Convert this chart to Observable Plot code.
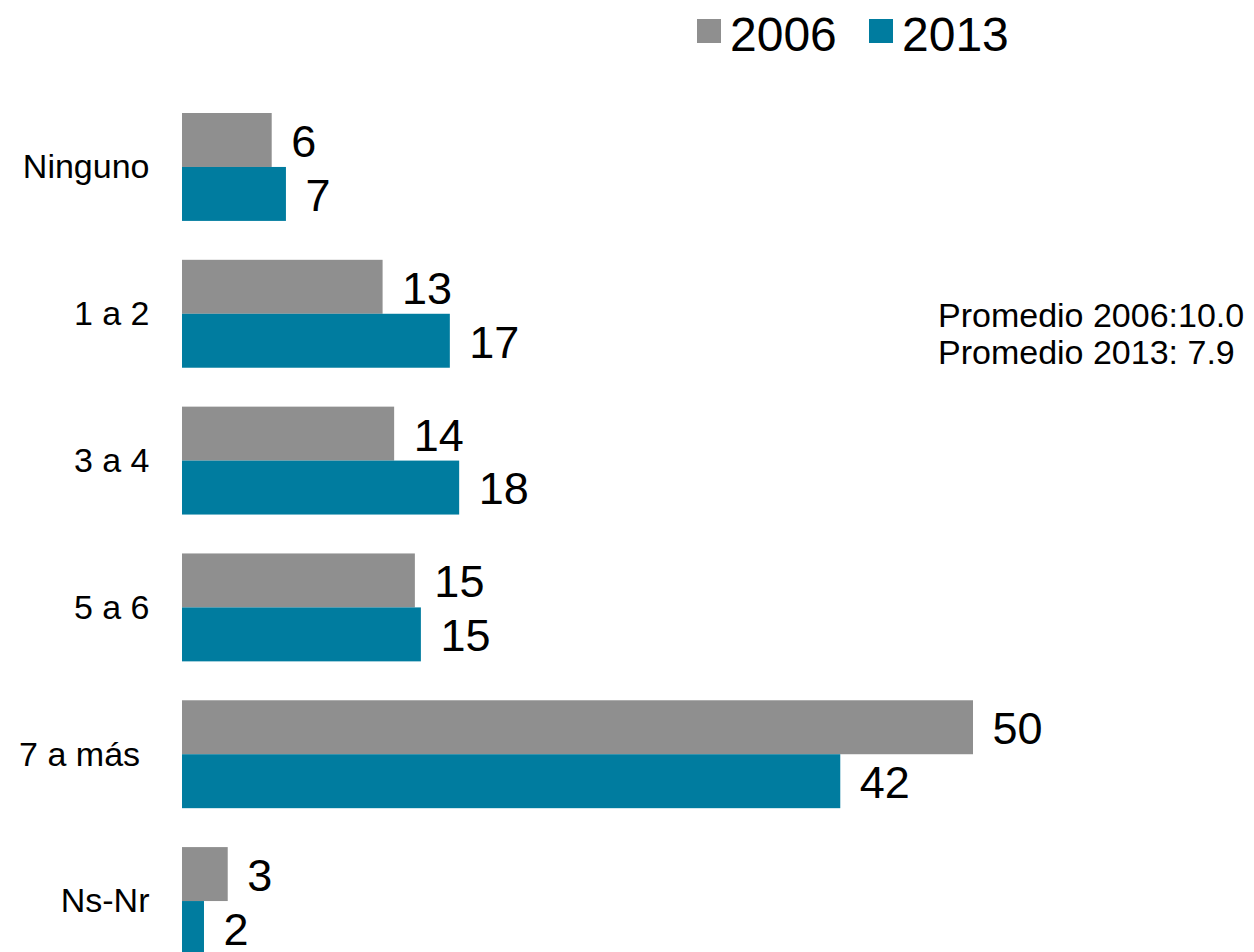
<!DOCTYPE html>
<html>
<head>
<meta charset="utf-8">
<script src="https://cdn.jsdelivr.net/npm/d3@7"></script>
<script src="https://cdn.jsdelivr.net/npm/@observablehq/plot@0.6"></script>
<style>
  html, body { margin: 0; padding: 0; overflow: hidden; background: #fff; }
  body { font-family: "Liberation Sans", Arial, sans-serif; color: #000; width: 1254px; height: 952px; position: relative; }
  #chart { position: absolute; left: 0; top: 0; }
  .sw { position: absolute; width: 24px; height: 24px; }
  .lg { position: absolute; font-size: 48px; line-height: 48px; }
  #note { position: absolute; left: 938px; top: 297px; font-size: 34px; line-height: 37px; white-space: pre; }
</style>
</head>
<body>
<div id="chart"></div>
<div class="sw" style="left:697px; top:19px; background:#8f8f8f;"></div>
<div class="lg" style="left:730px; top:11px;">2006</div>
<div class="sw" style="left:869px; top:19px; background:#007c9f;"></div>
<div class="lg" style="left:902px; top:11px;">2013</div>
<div id="note">Promedio 2006:10.0
Promedio 2013: 7.9</div>
<script>
const categories = ["Ninguno", "1 a 2", "3 a 4", "5 a 6", "7 a más", "Ns-Nr"];
const years = ["2006", "2013"];
const values2006 = [5.67, 12.68, 13.41, 14.72, 50.0, 2.89];
const values2013 = [6.57, 16.93, 17.52, 15.10, 41.61, 1.39];
const labels2006 = ["6", "13", "14", "15", "50", "3"];
const labels2013 = ["7", "17", "18", "15", "42", "2"];
const colors = ["#8f8f8f", "#007c9f"];

const data = [];
categories.forEach((c, i) => {
  data.push({cat: c, year: years[0], value: values2006[i], label: labels2006[i]});
  data.push({cat: c, year: years[1], value: values2013[i], label: labels2013[i]});
});

const chart = Plot.plot({
  width: 1254,
  height: 955,
  marginLeft: 182,
  marginRight: 281,
  marginTop: 113,
  marginBottom: 0,
  style: {fontFamily: "'Liberation Sans', Arial, sans-serif", background: "#fff", color: "#000"},
  x: {domain: [0, 50], axis: null},
  y: {domain: years, padding: 0, round: false, axis: null},
  fy: {domain: categories, paddingInner: 0.265, paddingOuter: 0, align: 0, round: false, label: null},
  color: {domain: years, range: colors},
  marks: [
    Plot.axisFy({
      anchor: "left",
      tickSize: 0,
      tickPadding: 33,
      fontSize: 34,
      label: null,
      tickFormat: d => d === "7 a más" ? d + " " : d
    }),
    Plot.barX(data, {x: "value", y: "year", fy: "cat", fill: "year"}),
    Plot.text(data, {
      x: "value", y: "year", fy: "cat", text: "label",
      textAnchor: "start", dx: 19, dy: 2, fontSize: 45, fill: "#000"
    })
  ]
});
document.getElementById("chart").appendChild(chart);
</script>
</body>
</html>
